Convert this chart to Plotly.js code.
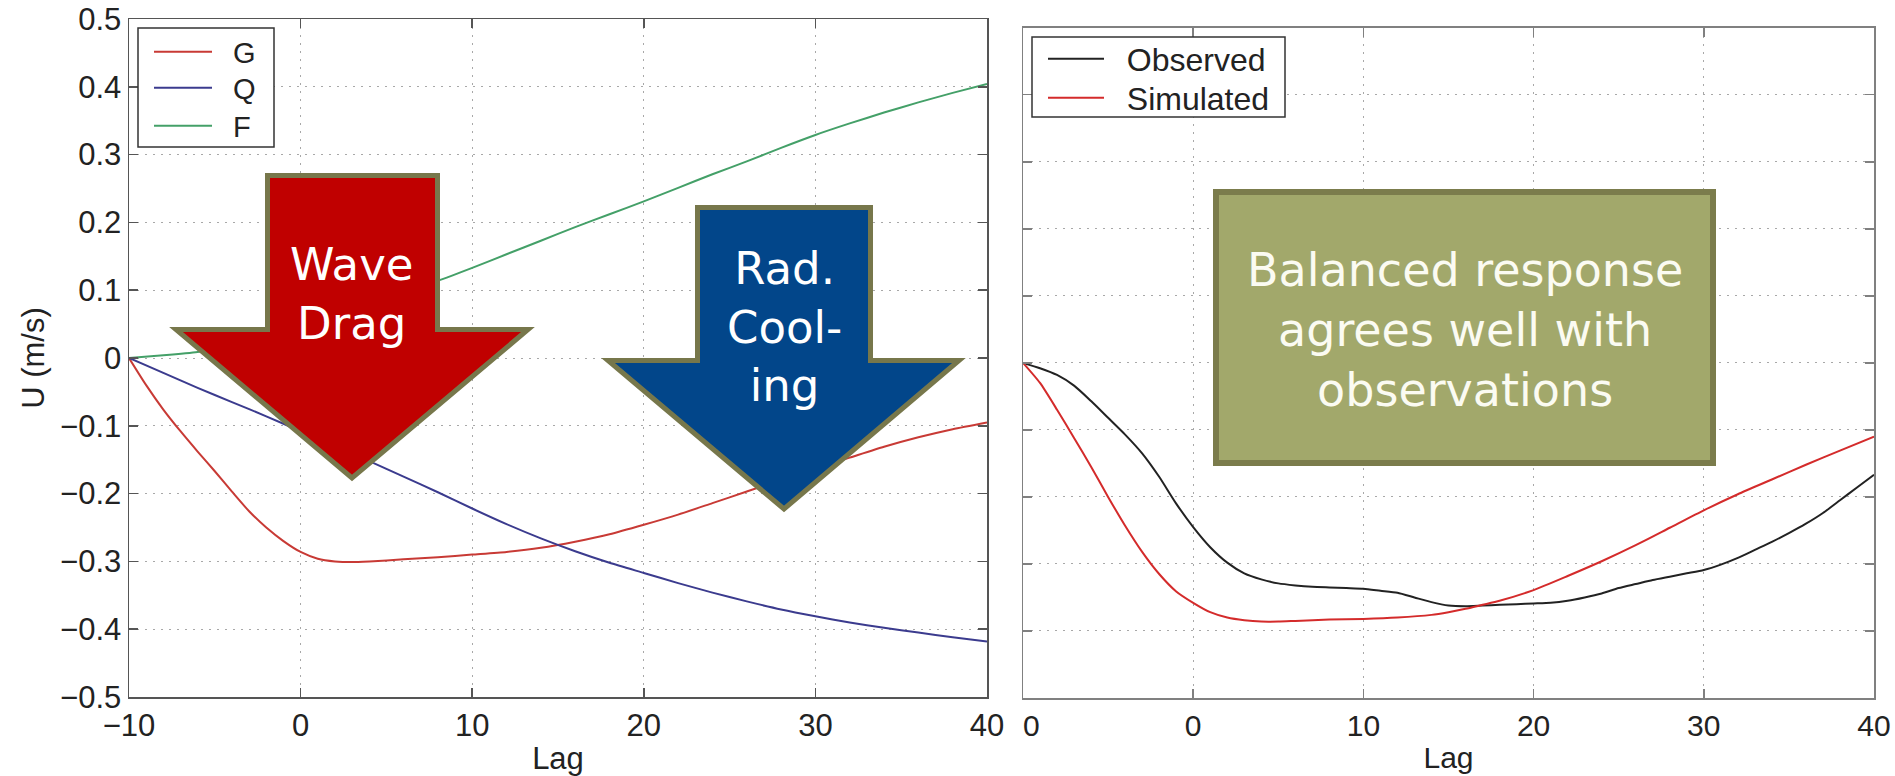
<!DOCTYPE html>
<html>
<head>
<meta charset="utf-8">
<script src="https://cdn.plot.ly/plotly-3.0.1.min.js"></script>
<style>
html,body{margin:0;padding:0;background:#ffffff;}
#chart{width:1895px;height:776px;}
</style>
</head>
<body>
<div id="chart"></div>
<script>
// ---------- data ----------
const lagG = [-10,-9,-8,-7,-6,-5,-4,-3,-2,-1,0,1,2,3,4,6,8,10,12,14,16,18,20,22,24,26,28,30,32,34,36,38,40];
const valG = [0,-0.040,-0.076,-0.108,-0.138,-0.167,-0.197,-0.226,-0.250,-0.270,-0.286,-0.296,-0.300,-0.301,-0.300,-0.297,-0.294,-0.290,-0.286,-0.280,-0.271,-0.260,-0.246,-0.231,-0.214,-0.197,-0.180,-0.163,-0.147,-0.131,-0.117,-0.105,-0.095];

const lagQ = [-10,-8,-6,-4,-2,0,2,4,6,8,10,12,14,16,18,20,22,24,26,28,30,32,34,36,38,40];
const valQ = [0,-0.022,-0.044,-0.065,-0.086,-0.108,-0.130,-0.152,-0.175,-0.198,-0.222,-0.245,-0.266,-0.285,-0.302,-0.317,-0.332,-0.346,-0.359,-0.371,-0.381,-0.390,-0.398,-0.405,-0.412,-0.418];

const lagF = [-10,-8,-6,-4,-2,0,2,4,6,8,10,12,14,16,18,20,22,24,26,28,30,32,34,36,38,40];
const valF = [0,0.004,0.009,0.018,0.032,0.048,0.065,0.082,0.098,0.114,0.133,0.153,0.173,0.193,0.212,0.231,0.251,0.271,0.290,0.310,0.329,0.346,0.362,0.377,0.391,0.404];

const lagObs = [-10,-9,-8,-7,-6,-5,-4,-3,-2,-1,0,1,2,3,4,5,6,7,8,9,10,11,12,13,14,15,16,17,18,19,20,21,22,23,24,25,26,27,28,29,30,31,32,33,34,35,36,37,38,39,40];
const valObs = [0,-0.008,-0.018,-0.034,-0.057,-0.082,-0.107,-0.135,-0.170,-0.210,-0.245,-0.275,-0.298,-0.314,-0.323,-0.329,-0.332,-0.334,-0.335,-0.336,-0.337,-0.340,-0.343,-0.350,-0.357,-0.362,-0.363,-0.362,-0.361,-0.360,-0.359,-0.358,-0.355,-0.350,-0.344,-0.336,-0.330,-0.324,-0.319,-0.314,-0.309,-0.301,-0.291,-0.279,-0.267,-0.254,-0.240,-0.224,-0.205,-0.186,-0.167];

const lagSim = [-10,-9,-8,-7,-6,-5,-4,-3,-2,-1,0,1,2,3,4,5,6,8,10,12,14,15,16,17,18,20,22,24,26,28,30,32,34,36,38,40];
const valSim = [0,-0.030,-0.070,-0.112,-0.155,-0.200,-0.243,-0.282,-0.315,-0.341,-0.358,-0.372,-0.380,-0.384,-0.386,-0.386,-0.385,-0.383,-0.382,-0.380,-0.376,-0.372,-0.367,-0.361,-0.355,-0.339,-0.318,-0.296,-0.272,-0.246,-0.220,-0.196,-0.174,-0.152,-0.131,-0.110];

const lagTicks = [-10,0,10,20,30,40];
const lagTickTextLeft = ["\u221210","0","10","20","30","40"];
const lagTickTextRight = ["\u00a0\u00a00","0","10","20","30","40"];
const uTicks = [-0.5,-0.4,-0.3,-0.2,-0.1,0,0.1,0.2,0.3,0.4,0.5];
const uTickText = ["\u22120.5","\u22120.4","\u22120.3","\u22120.2","\u22120.1","0","0.1","0.2","0.3","0.4","0.5"];

const labelWave = "Wave<br>Drag";
const labelRad = "Rad.<br>Cool-<br>ing";
const labelBox = "Balanced response<br>agrees well with<br>observations";

// ---------- geometry helpers (figure pixels -> paper) ----------
const W = 1895, H = 776;
const M = {l:129, r:21, t:19, b:78};
const PW = W - M.l - M.r, PH = H - M.t - M.b;
function fx(px){ return (px - M.l) / PW; }
function fy(py){ return (H - M.b - py) / PH; }
function path(pts){
  return 'M' + pts.map(p => fx(p[0]).toFixed(5) + ',' + fy(p[1]).toFixed(5)).join('L') + 'Z';
}

const AX = 'Liberation Sans, Arial, Helvetica, sans-serif';
const TXT = '#222222';
const SP = '\u00a0\u00a0';

const traces = [
  {x: lagG, y: valG, name: SP + 'G', type: 'scatter', mode: 'lines', xaxis: 'x', yaxis: 'y', legend: 'legend',
   line: {color: '#c83a35', width: 2, shape: 'spline', smoothing: 0.6}},
  {x: lagQ, y: valQ, name: SP + 'Q', type: 'scatter', mode: 'lines', xaxis: 'x', yaxis: 'y', legend: 'legend2',
   line: {color: '#3b3b8e', width: 2, shape: 'spline', smoothing: 0.6}},
  {x: lagF, y: valF, name: SP + 'F', type: 'scatter', mode: 'lines', xaxis: 'x', yaxis: 'y', legend: 'legend3',
   line: {color: '#44a068', width: 2, shape: 'spline', smoothing: 0.6}},
  {x: lagObs, y: valObs, name: SP + 'Observed', type: 'scatter', mode: 'lines', xaxis: 'x2', yaxis: 'y2', legend: 'legend4',
   line: {color: '#222222', width: 2, shape: 'spline', smoothing: 0.6}},
  {x: lagSim, y: valSim, name: SP + 'Simulated', type: 'scatter', mode: 'lines', xaxis: 'x2', yaxis: 'y2', legend: 'legend5',
   line: {color: '#d42b2b', width: 2, shape: 'spline', smoothing: 0.6}}
];

function xAxis(domain, anchor, ticktext, size, lineColor){
  return {
    domain: domain, anchor: anchor, range: [-10, 40],
    tickmode: 'array', tickvals: lagTicks, ticktext: ticktext,
    ticks: 'inside', ticklen: 9, tickwidth: 1.5, tickcolor: lineColor,
    showline: true, linecolor: lineColor, linewidth: 1.5, mirror: 'ticks',
    showgrid: true, gridcolor: '#a8a8a8', gridwidth: 1, griddash: '2px,6px',
    zeroline: false,
    tickfont: {family: AX, size: size, color: TXT},
    title: {text: 'Lag', font: {family: AX, size: size, color: TXT}, standoff: 6},
    automargin: false, fixedrange: true
  };
}
function yAxis(domain, anchor, showLabels, size, lineColor){
  return {
    domain: domain, anchor: anchor, range: [-0.5, 0.5],
    tickmode: 'array', tickvals: uTicks, ticktext: uTickText,
    showticklabels: showLabels,
    ticks: 'inside', ticklen: 9, tickwidth: 1.5, tickcolor: lineColor,
    showline: true, linecolor: lineColor, linewidth: 1.5, mirror: 'ticks',
    showgrid: true, gridcolor: '#a8a8a8', gridwidth: 1, griddash: '2px,6px',
    zeroline: false,
    tickfont: {family: AX, size: size, color: TXT},
    title: showLabels ? {text: 'U (m/s)', font: {family: AX, size: size, color: TXT}, standoff: 6} : {text: ''},
    automargin: false, fixedrange: true
  };
}

function oneLegend(px, py, size, iw){
  return {
    x: fx(px), y: fy(py), xanchor: 'left', yanchor: 'middle',
    bgcolor: 'rgba(0,0,0,0)', borderwidth: 0,
    font: {family: AX, size: size, color: TXT}, itemwidth: iw, tracegroupgap: 0
  };
}

const layout = {
  width: W, height: H,
  margin: M,
  paper_bgcolor: '#ffffff', plot_bgcolor: '#ffffff',
  showlegend: true,
  xaxis: xAxis([0, fx(987)], 'y', lagTickTextLeft, 31, '#555555'),
  yaxis: yAxis([fy(697), 1], 'x', true, 31, '#555555'),
  xaxis2: xAxis([fx(1023), 1], 'y2', lagTickTextRight, 30, '#808080'),
  yaxis2: yAxis([0, fy(27.7)], 'x2', false, 30, '#808080'),
  legend:  oneLegend(149, 52, 29, 58),
  legend2: oneLegend(149, 88, 29, 58),
  legend3: oneLegend(149, 126, 29, 58),
  legend4: oneLegend(1043, 59, 32, 56),
  legend5: oneLegend(1043, 98, 32, 56),
  shapes: [
    // legend frames
    {type: 'rect', xref: 'paper', yref: 'paper', layer: 'above',
     x0: fx(138), x1: fx(274), y0: fy(147), y1: fy(28),
     fillcolor: '#ffffff', line: {color: '#333333', width: 1.5}},
    {type: 'rect', xref: 'paper', yref: 'paper', layer: 'above',
     x0: fx(1032), x1: fx(1285), y0: fy(117), y1: fy(37),
     fillcolor: '#ffffff', line: {color: '#333333', width: 1.5}},
    // red "Wave Drag" arrow
    {type: 'path', xref: 'paper', yref: 'paper', layer: 'above',
     path: path([[267.5,175.5],[437.5,175.5],[437.5,329.5],[528,329.5],[352,478],[176,329.5],[267.5,329.5]]),
     fillcolor: '#c00000', line: {color: '#77774b', width: 5}},
    // blue "Rad. Cooling" arrow
    {type: 'path', xref: 'paper', yref: 'paper', layer: 'above',
     path: path([[697.5,207.5],[870.5,207.5],[870.5,360.5],[959,360.5],[784,509],[608,360.5],[697.5,360.5]]),
     fillcolor: '#02468a', line: {color: '#77774b', width: 5}},
    // olive text box
    {type: 'rect', xref: 'paper', yref: 'paper', layer: 'above',
     x0: fx(1216), x1: fx(1713), y0: fy(463), y1: fy(192),
     fillcolor: '#a2a86b', line: {color: '#7b7c4c', width: 6}}
  ],
  annotations: [
    {text: labelWave, xref: 'paper', yref: 'paper', x: fx(352), y: fy(294),
     xanchor: 'center', yanchor: 'middle', showarrow: false, align: 'center',
     font: {family: 'DejaVu Sans, Verdana, sans-serif', size: 45, color: '#ffffff'}},
    {text: labelRad, xref: 'paper', yref: 'paper', x: fx(784), y: fy(327),
     xanchor: 'center', yanchor: 'middle', showarrow: false, align: 'center',
     font: {family: 'DejaVu Sans, Verdana, sans-serif', size: 45, color: '#ffffff'}},
    {text: labelBox, xref: 'paper', yref: 'paper', x: fx(1465), y: fy(330),
     xanchor: 'center', yanchor: 'middle', showarrow: false, align: 'center',
     font: {family: 'DejaVu Sans, Verdana, sans-serif', size: 46, color: '#fbfbf2'}}
  ]
};

Plotly.newPlot('chart', traces, layout, {displayModeBar: false, staticPlot: true});
</script>
</body>
</html>
